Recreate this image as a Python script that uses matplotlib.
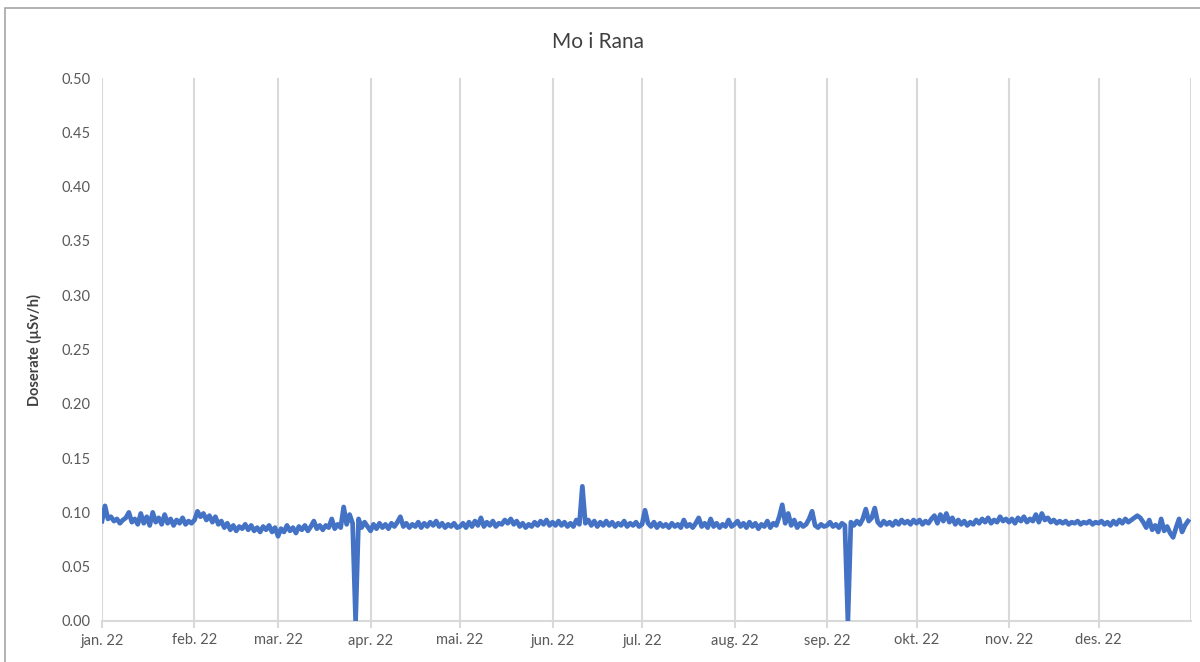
import datetime as dt
import matplotlib
matplotlib.use("Agg")
import matplotlib.pyplot as plt
from matplotlib.patches import Rectangle

# daily doserate readings (uSv/h), one list per month
jan = [0.092, 0.106, 0.094, 0.096, 0.092, 0.094, 0.090, 0.093, 0.095, 0.100, 0.091, 0.094, 0.089, 0.099, 0.090, 0.096,
       0.088, 0.100, 0.091, 0.095, 0.089, 0.098, 0.090, 0.094, 0.088, 0.093, 0.090, 0.095, 0.089, 0.092, 0.090]
feb = [0.093, 0.101, 0.096, 0.099, 0.093, 0.097, 0.091, 0.096, 0.089, 0.092, 0.086, 0.090, 0.084, 0.088, 0.083, 0.087,
       0.085, 0.089, 0.084, 0.088, 0.083, 0.086, 0.082, 0.087, 0.084, 0.088, 0.082, 0.086]
mar = [0.078, 0.085, 0.082, 0.088, 0.083, 0.086, 0.081, 0.087, 0.084, 0.088, 0.083, 0.087, 0.092, 0.085, 0.088, 0.084,
       0.088, 0.086, 0.094, 0.085, 0.089, 0.086, 0.105, 0.089, 0.098, 0.090, 0.000, 0.094, 0.086, 0.091, 0.087]
apr = [0.083, 0.089, 0.085, 0.090, 0.086, 0.089, 0.085, 0.090, 0.087, 0.091, 0.096, 0.087, 0.090, 0.086, 0.089, 0.087,
       0.091, 0.086, 0.090, 0.087, 0.091, 0.088, 0.092, 0.087, 0.090, 0.086, 0.089, 0.087, 0.090, 0.086]
may = [0.087, 0.090, 0.086, 0.091, 0.087, 0.092, 0.088, 0.095, 0.087, 0.091, 0.088, 0.092, 0.087, 0.090, 0.089, 0.093,
       0.090, 0.094, 0.089, 0.092, 0.087, 0.090, 0.086, 0.089, 0.087, 0.091, 0.088, 0.092, 0.089, 0.093, 0.088]
jun = [0.091, 0.088, 0.092, 0.088, 0.091, 0.087, 0.090, 0.087, 0.093, 0.089, 0.124, 0.090, 0.093, 0.088, 0.092, 0.087,
       0.091, 0.088, 0.092, 0.088, 0.091, 0.087, 0.090, 0.088, 0.092, 0.087, 0.090, 0.088, 0.091, 0.087]
jul = [0.089, 0.102, 0.090, 0.087, 0.091, 0.086, 0.090, 0.087, 0.089, 0.086, 0.090, 0.087, 0.089, 0.086, 0.093, 0.087,
       0.089, 0.086, 0.090, 0.095, 0.087, 0.090, 0.086, 0.094, 0.087, 0.090, 0.086, 0.089, 0.087, 0.093, 0.087]
aug = [0.089, 0.092, 0.087, 0.090, 0.086, 0.091, 0.087, 0.090, 0.085, 0.089, 0.087, 0.092, 0.086, 0.090, 0.088, 0.096,
       0.107, 0.090, 0.099, 0.088, 0.093, 0.086, 0.090, 0.087, 0.089, 0.094, 0.101, 0.088, 0.086, 0.089, 0.087]
sep = [0.088, 0.091, 0.087, 0.089, 0.086, 0.090, 0.088, 0.000, 0.091, 0.088, 0.092, 0.089, 0.094, 0.103, 0.092, 0.095,
       0.104, 0.091, 0.088, 0.092, 0.089, 0.091, 0.088, 0.092, 0.089, 0.093, 0.090, 0.092, 0.089, 0.093]
okt = [0.090, 0.093, 0.089, 0.092, 0.090, 0.094, 0.097, 0.090, 0.098, 0.092, 0.099, 0.091, 0.095, 0.089, 0.093, 0.089,
       0.092, 0.088, 0.091, 0.089, 0.093, 0.090, 0.094, 0.091, 0.095, 0.090, 0.093, 0.091, 0.096, 0.092, 0.094]
nov = [0.091, 0.094, 0.090, 0.095, 0.092, 0.096, 0.091, 0.094, 0.092, 0.098, 0.091, 0.099, 0.093, 0.095, 0.091, 0.093,
       0.090, 0.092, 0.090, 0.092, 0.089, 0.091, 0.090, 0.092, 0.089, 0.091, 0.090, 0.092, 0.089, 0.091]
des = [0.090, 0.092, 0.089, 0.091, 0.088, 0.092, 0.089, 0.093, 0.090, 0.094, 0.091, 0.093, 0.095, 0.097, 0.095, 0.091,
       0.086, 0.093, 0.084, 0.088, 0.082, 0.094, 0.083, 0.087, 0.081, 0.077, 0.086, 0.094, 0.082, 0.088, 0.092]

month_labels = ["jan. 22", "feb. 22", "mar. 22", "apr. 22", "mai. 22", "jun. 22",
                "jul. 22", "aug. 22", "sep. 22", "okt. 22", "nov. 22", "des. 22"]
y_ticks = [0.00, 0.05, 0.10, 0.15, 0.20, 0.25, 0.30, 0.35, 0.40, 0.45, 0.50]

values = jan + feb + mar + apr + may + jun + jul + aug + sep + okt + nov + des
start = dt.datetime(2022, 1, 1)
dates = [start + dt.timedelta(days=i) for i in range(len(values))]
month_starts = [dt.datetime(2022, m, 1) for m in range(1, 13)]
end = dt.datetime(2023, 1, 1)

plt.rcParams['font.family'] = ['Lato', 'DejaVu Sans']

fig = plt.figure(figsize=(12, 6.62), dpi=100)
ax = fig.add_axes([102 / 1200, 1 - 621 / 662, (1191 - 102) / 1200, (621 - 78) / 662])

# chart-area border
fig.patches.append(Rectangle((5 / 1200, -0.1), 1.2, 1.1 - 8 / 662, transform=fig.transFigure,
                             fill=False, edgecolor='#A6A6A6', linewidth=1.2))

for d in month_starts + [end]:
    ax.axvline(d, color='#D9D9D9', linewidth=1.5, zorder=0)

ax.plot(dates, values, color='#4472C4', linewidth=3.4, solid_joinstyle='round', zorder=3)

ax.set_xlim(start, end)
ax.set_ylim(0, 0.5)
ax.set_yticks(y_ticks)
ax.set_yticklabels([f"{v:.2f}" for v in y_ticks])
ax.set_xticks(month_starts)
ax.set_xticklabels(month_labels)

for s in ['top', 'right', 'left']:
    ax.spines[s].set_visible(False)
ax.spines['bottom'].set_color('#D9D9D9')
ax.spines['bottom'].set_linewidth(1.5)

ax.tick_params(axis='y', length=0, labelsize=10.5, labelcolor='#595959', pad=8)
ax.tick_params(axis='x', length=5, width=1.5, color='#D9D9D9', labelsize=10.5, labelcolor='#595959', pad=4)

ax.set_ylabel("Doserate (µSv/h)", fontsize=10.5, fontweight='bold', color='#404040', labelpad=14)
fig.text(598 / 1200, 1 - 42 / 662, "Mo i Rana", ha='center', va='center', fontsize=15, color='#404040')

fig.savefig("out.png", dpi=100)
